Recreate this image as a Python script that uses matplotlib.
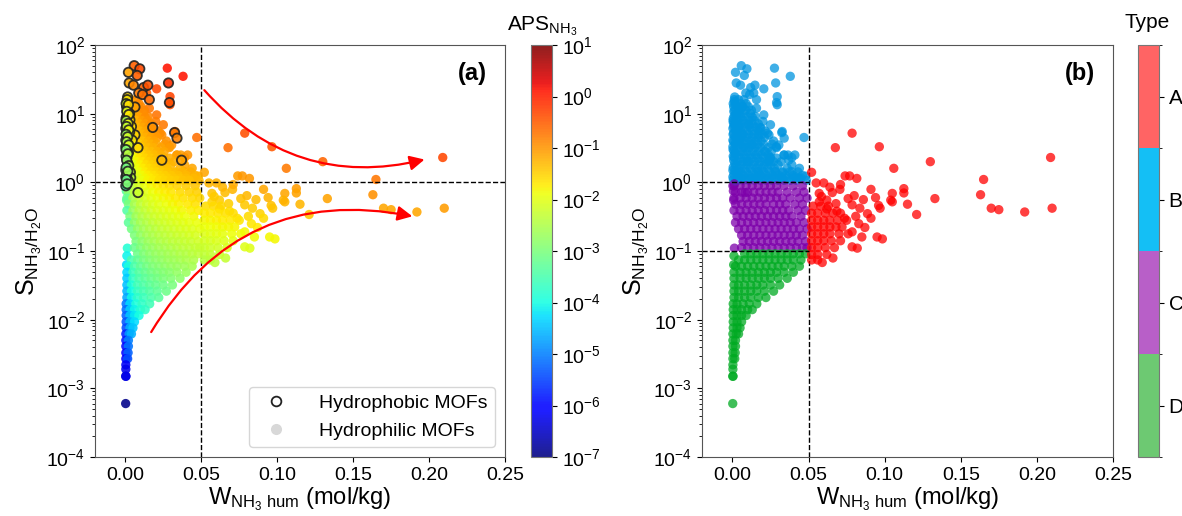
import numpy as np
import matplotlib
matplotlib.use('Agg')
import matplotlib.pyplot as plt
from matplotlib.colors import LogNorm, ListedColormap, BoundaryNorm
from matplotlib.cm import ScalarMappable
from matplotlib.lines import Line2D
from matplotlib.ticker import NullFormatter

plt.rcParams['font.family'] = ['Liberation Sans', 'DejaVu Sans']
plt.rcParams['mathtext.fontset'] = 'custom'
plt.rcParams['mathtext.rm'] = 'Liberation Sans'
plt.rcParams['mathtext.it'] = 'Liberation Sans:italic'
plt.rcParams['mathtext.bf'] = 'Liberation Sans:bold'

# =====================================
# Data (W in mol/kg, S = NH3/H2O selectivity)
# =====================================
# hydrophobic MOFs (drawn with black edge in panel a)
phobic_points = [
    (0.0058, 50), (0.0095, 45), (0.0020, 40), (0.0078, 36), (0.0025, 28), (0.0053, 26),
    (0.0120, 24), (0.0148, 26), (0.0088, 20), (0.0113, 19), (0.0158, 16), (0.0284, 28),
    (0.0290, 14.5), (0.0015, 17.5), (0.0013, 15), (0.0063, 12.5), (0.0180, 6.3), (0.0324, 5.3),
    (0.0340, 4.4), (0.0240, 2.1), (0.0370, 2.1), (0.0083, 3.2), (0.0063, 4.9), (0.0028, 10),
    (0.0030, 8.1), (0.0040, 6.5), (0.0008, 5.2), (0.0025, 4.5), (0.0018, 3.7), (0.0010, 2.9),
    (0.0010, 2.3), (0.0015, 1.9), (0.0003, 1.5), (0.0033, 1.4), (0.0003, 1.2), (0.0035, 1.17),
    (0.0003, 0.89), (0.0083, 0.71), (0.0008, 12.6), (0.0015, 11), (0.0003, 4.1), (0.0003, 3.3),
    (0.0005, 2.4), (0.0020, 2.7), (0.0028, 5.4), (0.0045, 4.1), (0.0015, 6.8), (0.0003, 6.1),
    (0.0005, 8.5), (0.0010, 1.3), (0.0020, 1.05), (0.0012, 9.3), (0.0006, 7.4),
    (0.0012, 16), (0.0005, 14), (0.0020, 13.5), (0.0009, 10.8), (0.0022, 9.7), (0.0004, 7.9),
    (0.0018, 7.2), (0.0008, 6.5), (0.0022, 5.8), (0.0004, 5.0), (0.0015, 4.6), (0.0008, 3.9),
    (0.0022, 3.5), (0.0004, 3.0), (0.0016, 2.6), (0.0008, 2.1), (0.0022, 1.75), (0.0005, 1.65),
    (0.0016, 1.45), (0.0006, 1.1), (0.0012, 0.95),
]

# hydrophilic, scattered points with W < 0.05 and S > 1
upper_points = [
    (0.0276, 46), (0.038, 35), (0.0206, 23), (0.0294, 17.7), (0.0294, 13.5), (0.014, 20),
    (0.0158, 12), (0.0206, 9.6), (0.015, 9.1), (0.0107, 6.9), (0.0173, 4.9), (0.024, 4.9),
    (0.0305, 3.5), (0.047, 4.5), (0.0338, 2.5), (0.0283, 1.43), (0.039, 1.43), (0.0436, 1.16),
    (0.048, 1.23), (0.024, 2.0), (0.023, 5.2), (0.020, 7.7), (0.025, 6.9), (0.0327, 5.5),
    (0.0186, 6.2), (0.0288, 3.3), (0.025, 2.3), (0.0365, 2.5), (0.039, 2.3), (0.0327, 1.38),
    (0.042, 1.2), (0.0096, 2.0), (0.0173, 1.43), (0.0327, 1.16), (0.015, 1.16), (0.0129, 3.5),
    (0.0217, 2.8),
]

# hydrophilic, scattered points with W > 0.05
right_points = [
    (0.0786, 5.2), (0.0676, 3.2), (0.0965, 3.3), (0.130, 2.0), (0.209, 2.3), (0.106, 1.6),
    (0.165, 1.1), (0.163, 0.66), (0.133, 0.58), (0.170, 0.42), (0.175, 0.40), (0.192, 0.37),
    (0.210, 0.42), (0.121, 0.34), (0.1126, 0.81), (0.1126, 0.70), (0.105, 0.69), (0.105, 0.52),
    (0.115, 0.48), (0.094, 0.60), (0.096, 0.46), (0.0817, 1.14), (0.074, 1.24), (0.077, 1.24),
    (0.076, 0.58), (0.0837, 0.42), (0.0985, 0.15), (0.095, 0.16), (0.082, 0.11), (0.0786, 0.115),
    (0.066, 0.079), (0.059, 0.068), (0.052, 1.4), (0.060, 0.98), (0.055, 0.98), (0.0706, 0.79),
    (0.091, 0.79), (0.0656, 0.71), (0.057, 0.69), (0.062, 0.55), (0.068, 0.49), (0.0786, 0.47),
    (0.081, 0.32), (0.0887, 0.35), (0.0736, 0.30), (0.0686, 0.38), (0.062, 0.41), (0.057, 0.52),
    (0.071, 0.93), (0.080, 0.64), (0.086, 0.56), (0.091, 0.30), (0.083, 0.25), (0.087, 0.22),
    (0.085, 0.16), (0.0786, 0.19), (0.0585, 0.62), (0.064, 0.85), (0.097, 0.42), (0.104, 0.55),
]

# isolated points on the left edge of the cloud
left_points = [(0.0013, 0.11), (0.0008, 0.063), (0.0010, 0.085), (0.0006, 0.75), (0.0008, 0.55)]

# dense cloud, read row by row: one S level and the W positions on that row
b_rows_s = [16, 14, 12.6, 11.2, 10, 8.9, 7.9, 7.1, 6.3, 5.6, 5.0, 4.5, 4.0, 3.6, 3.2, 2.8,
            2.5, 2.25, 2.0, 1.8, 1.6, 1.42, 1.26, 1.15, 1.07]
b_rows_w = [
    [0.004, 0.0075],
    [0.0055, 0.009],
    [0.0035, 0.0068, 0.0105],
    [0.005, 0.0088, 0.0125],
    [0.0042, 0.0075, 0.0118],
    [0.0055, 0.0092, 0.013],
    [0.0038, 0.0072, 0.011, 0.0145],
    [0.0055, 0.0092, 0.013, 0.017],
    [0.004, 0.0078, 0.0115, 0.0152],
    [0.0055, 0.0095, 0.0132, 0.017, 0.0215],
    [0.0036, 0.007, 0.0108, 0.0145, 0.0195],
    [0.0057, 0.0093, 0.013, 0.0168, 0.021],
    [0.004, 0.0075, 0.0112, 0.015, 0.0188, 0.027],
    [0.0055, 0.0092, 0.013, 0.0167, 0.0205, 0.026],
    [0.0038, 0.0072, 0.011, 0.0148, 0.0185, 0.0235, 0.029],
    [0.0057, 0.0095, 0.0133, 0.017, 0.021, 0.0255],
    [0.004, 0.0076, 0.0114, 0.0152, 0.019, 0.0235, 0.034, 0.041],
    [0.0055, 0.0092, 0.013, 0.0168, 0.0205, 0.0248, 0.029],
    [0.0036, 0.0072, 0.011, 0.0148, 0.0186, 0.0225, 0.027, 0.032],
    [0.0057, 0.0095, 0.0135, 0.0172, 0.021, 0.025, 0.030, 0.039],
    [0.004, 0.0078, 0.0116, 0.0154, 0.0192, 0.023, 0.0275, 0.036, 0.044],
    [0.0055, 0.0092, 0.013, 0.0167, 0.0205, 0.0243, 0.028, 0.033, 0.0375, 0.043],
    [0.0038, 0.0074, 0.011, 0.0148, 0.0186, 0.0224, 0.0262, 0.0305, 0.035, 0.040, 0.046],
    [0.0055, 0.009, 0.0128, 0.0165, 0.0203, 0.0241, 0.028, 0.032, 0.036, 0.040, 0.045],
    [0.0035, 0.007, 0.0108, 0.0146, 0.0184, 0.0222, 0.026, 0.030, 0.034, 0.038, 0.042, 0.0485],
]

c_rows_s = [0.89, 0.72, 0.59, 0.48, 0.39, 0.32, 0.26, 0.21, 0.17, 0.138, 0.112]
c_rows_w = [
    [0.001, 0.005, 0.009, 0.013, 0.017, 0.021, 0.025, 0.029, 0.034, 0.040, 0.046],
    [0.002, 0.006, 0.010, 0.014, 0.018, 0.022, 0.026, 0.030, 0.036, 0.042, 0.047],
    [0.001, 0.005, 0.009, 0.013, 0.017, 0.021, 0.025, 0.029, 0.033, 0.038, 0.044, 0.049],
    [0.002, 0.006, 0.010, 0.014, 0.018, 0.022, 0.027, 0.031, 0.035, 0.041, 0.046],
    [0.001, 0.005, 0.009, 0.013, 0.017, 0.021, 0.025, 0.029, 0.033, 0.037, 0.043, 0.048],
    [0.003, 0.007, 0.011, 0.015, 0.019, 0.023, 0.027, 0.031, 0.035, 0.039, 0.045],
    [0.002, 0.006, 0.010, 0.014, 0.018, 0.022, 0.026, 0.030, 0.034, 0.038, 0.042, 0.047],
    [0.004, 0.008, 0.012, 0.016, 0.020, 0.024, 0.028, 0.032, 0.036, 0.040, 0.044, 0.049],
    [0.006, 0.010, 0.014, 0.018, 0.022, 0.026, 0.030, 0.034, 0.038, 0.042, 0.046],
    [0.007, 0.011, 0.015, 0.019, 0.023, 0.027, 0.031, 0.035, 0.039, 0.043, 0.048],
    [0.006, 0.010, 0.014, 0.018, 0.022, 0.026, 0.030, 0.034, 0.038, 0.042, 0.046, 0.049],
]

d_rows_s = [0.091, 0.074, 0.060, 0.049, 0.040, 0.032, 0.026, 0.021, 0.017, 0.014, 0.0115,
            0.0093, 0.0076, 0.0062, 0.0050, 0.0041, 0.0033, 0.0027, 0.0022, 0.0019, 0.0015, 0.0006]
d_rows_w = [
    [0.008, 0.012, 0.016, 0.020, 0.024, 0.028, 0.032, 0.036, 0.040, 0.044, 0.048],
    [0.004, 0.008, 0.012, 0.016, 0.020, 0.024, 0.028, 0.032, 0.036, 0.040, 0.045],
    [0.002, 0.006, 0.010, 0.014, 0.018, 0.022, 0.026, 0.030, 0.034, 0.039, 0.044],
    [0.001, 0.005, 0.009, 0.013, 0.017, 0.021, 0.025, 0.029, 0.034, 0.040],
    [0.001, 0.005, 0.009, 0.013, 0.017, 0.021, 0.025, 0.030, 0.036],
    [0.001, 0.004, 0.008, 0.012, 0.016, 0.020, 0.025, 0.031],
    [0.001, 0.004, 0.008, 0.012, 0.016, 0.021, 0.027],
    [0.001, 0.004, 0.008, 0.012, 0.017, 0.022],
    [0.0005, 0.003, 0.007, 0.011, 0.016],
    [0.0005, 0.003, 0.006, 0.010, 0.013],
    [0.0005, 0.003, 0.006, 0.009],
    [0.0005, 0.003, 0.006],
    [0.0005, 0.003, 0.005],
    [0.0003, 0.0025, 0.004],
    [0.0003, 0.002],
    [0.0003, 0.002],
    [0.0003, 0.0018],
    [0.0003, 0.0015],
    [0.0003],
    [0.0003],
    [0.0002, 0.0004],
    [0.0002],
]

a_rows_s = [0.45, 0.355, 0.28, 0.224, 0.178, 0.141, 0.112, 0.089, 0.074]
a_rows_w = [
    [0.053, 0.058, 0.063],
    [0.052, 0.056, 0.061, 0.066, 0.071],
    [0.052, 0.056, 0.060, 0.064, 0.069, 0.075],
    [0.052, 0.056, 0.060, 0.064, 0.068, 0.072],
    [0.052, 0.056, 0.060, 0.064, 0.070, 0.076],
    [0.052, 0.056, 0.060, 0.065, 0.071],
    [0.052, 0.056, 0.061, 0.067],
    [0.052, 0.056, 0.062],
    [0.052, 0.056],
]

type_labels = ['D', 'C', 'B', 'A']
type_point_colors = ['#00aa22', '#7d00aa', '#0095e0', '#ff0000']
type_bar_colors = ['#6dc972', '#b85fc8', '#14bff5', '#ff6464']
y_ticks = [1e-4, 1e-3, 1e-2, 1e-1, 1e0, 1e1, 1e2]
aps_ticks = [1e-7, 1e-6, 1e-5, 1e-4, 1e-3, 1e-2, 1e-1, 1e0, 1e1]


def rows_to_points(s_rows, w_rows):
    pts = []
    for s_val, row in zip(s_rows, w_rows):
        pts += [(w, s_val) for w in row]
    return pts


phil = (upper_points + right_points + left_points
        + rows_to_points(b_rows_s, b_rows_w) + rows_to_points(c_rows_s, c_rows_w)
        + rows_to_points(d_rows_s, d_rows_w) + rows_to_points(a_rows_s, a_rows_w))
w_phil, s_phil = np.array(phil).T
w_phob, s_phob = np.array(phobic_points).T

# APS is defined as W x S
aps_phil = w_phil * s_phil
aps_phob = w_phob * s_phob

w_all = np.concatenate([w_phil, w_phob])
s_all = np.concatenate([s_phil, s_phob])
# type A: W >= 0.05; B: S >= 1; C: 0.1 <= S < 1; D: S < 0.1
type_idx = np.select([w_all >= 0.05, s_all >= 1, s_all >= 0.1], [3, 2, 1], default=0)

# =====================================
# Figure
# =====================================
fig = plt.figure(figsize=(11.82, 5.16), dpi=100)
W_, H_ = 1182, 516
bot, hgt = 59 / H_, 412 / H_
ax1 = fig.add_axes([95 / W_, bot, 410 / W_, hgt])
cax1 = fig.add_axes([531 / W_, bot, 21 / W_, hgt])
ax2 = fig.add_axes([702 / W_, bot, 411 / W_, hgt])
cax2 = fig.add_axes([1138 / W_, bot, 21 / W_, hgt])

norm = LogNorm(1e-7, 1e1)
ylab = r'$\mathrm{S_{NH_3/H_2O}}$'
xlab = r'$\mathrm{W_{NH_3\ hum}}$ (mol/kg)'
msize = 45

for ax in (ax1, ax2):
    ax.set_yscale('log')
    ax.set_xlim(-0.02, 0.25)
    ax.set_ylim(1e-4, 1e2)
    ax.set_yticks(y_ticks)
    ax.set_xticks([0.0, 0.05, 0.10, 0.15, 0.20, 0.25])
    ax.set_xticklabels(['0.00', '0.05', '0.10', '0.15', '0.20', '0.25'])
    ax.yaxis.set_minor_formatter(NullFormatter())
    ax.tick_params(labelsize=14)
    ax.set_xlabel(xlab, fontsize=17, labelpad=1)
    ax.set_ylabel(ylab, fontsize=18, labelpad=2)
    ax.axvline(0.05, color='k', ls='--', lw=1)
    for sp in ax.spines.values():
        sp.set_color('#555555')

# ----- (a) -----
sc = ax1.scatter(w_phil, s_phil, c=aps_phil, cmap='jet', norm=norm, s=msize,
                 edgecolors='none', alpha=0.88, zorder=2)
ax1.scatter(w_phob, s_phob, c=aps_phob, cmap='jet', norm=norm, s=msize,
            edgecolors='#222222', linewidths=1.3, alpha=0.9, zorder=3)
ax1.axhline(1, color='k', ls='--', lw=1)

ax1.annotate('', xy=(0.197, 2.15), xytext=(0.052, 22),
             arrowprops=dict(arrowstyle='-|>', color='red', lw=1.6, mutation_scale=22,
                             connectionstyle='arc3,rad=0.3', shrinkA=0, shrinkB=0), zorder=4)
ax1.annotate('', xy=(0.189, 0.32), xytext=(0.017, 0.0066),
             arrowprops=dict(arrowstyle='-|>', color='red', lw=1.6, mutation_scale=22,
                             connectionstyle='arc3,rad=-0.35', shrinkA=0, shrinkB=0), zorder=4)

handles = [Line2D([], [], marker='o', ls='', mfc='none', mec='#222222', ms=7, mew=1.3),
           Line2D([], [], marker='o', ls='', mfc='#d8d8d8', mec='none', ms=8)]
ax1.legend(handles, ['Hydrophobic MOFs', 'Hydrophilic MOFs'], loc='lower right',
           fontsize=14, edgecolor='#cccccc', handletextpad=1.2)
ax1.text(0.955, 0.93, '(a)', transform=ax1.transAxes, ha='right', va='center',
         fontsize=17, fontweight='bold')

cb1 = fig.colorbar(sc, cax=cax1, ticks=aps_ticks)
cb1.ax.minorticks_off()
cb1.ax.tick_params(labelsize=14)
cb1.outline.set_edgecolor('#777777')
fig.text(542 / W_, 1 - 26 / H_, r'APS$_{\mathrm{NH_3}}$', ha='center', va='center', fontsize=15)

# ----- (b) -----
point_cols = np.array(type_point_colors)[type_idx]
ax2.scatter(w_all, s_all, c=point_cols, s=msize, alpha=0.75, edgecolors='none', zorder=2)
ax2.hlines([1, 0.1], -0.02, 0.05, colors='k', linestyles='--', lw=1)
ax2.text(0.955, 0.93, '(b)', transform=ax2.transAxes, ha='right', va='center',
         fontsize=17, fontweight='bold')

type_cmap = ListedColormap(type_bar_colors)
type_norm = BoundaryNorm([0, 1, 2, 3, 4], 4)
cb2 = fig.colorbar(ScalarMappable(norm=type_norm, cmap=type_cmap), cax=cax2,
                   ticks=[0.5, 1.5, 2.5, 3.5])
cb2.ax.set_yticklabels(type_labels)
cb2.ax.tick_params(labelsize=15)
cb2.outline.set_edgecolor('#777777')
fig.text(1147 / W_, 1 - 22 / H_, 'Type', ha='center', va='center', fontsize=15)

fig.savefig('out.png', dpi=100)
